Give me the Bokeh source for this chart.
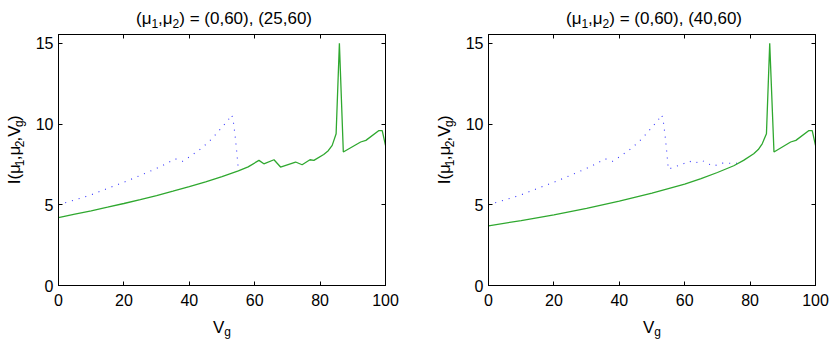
import math
from bokeh.plotting import figure
from bokeh.layouts import row, column
from bokeh.models import Range1d, FixedTicker, LinearAxis, Label, CustomJSTickFormatter
from bokeh.embed import file_html
from bokeh.resources import INLINE

# ---------------- data ----------------
# dotted blue curve, (mu1,mu2) = (0,60), common part
blue_x = [0, 5, 10, 16.6, 20.9, 27.3, 31.6, 35.7, 37.9, 40, 43.8, 47.1, 50.5, 51.8, 53, 53.5, 54, 54.5, 55]
blue_y = [5.0, 5.3, 5.62, 6.14, 6.47, 7.02, 7.4, 7.85, 7.69, 7.96, 8.51, 9.13, 9.92, 10.23, 10.58, 10.1, 9.3, 8.3, 7.2]
# continuation of the blue curve visible in the right panel
blue_tail_x = [55, 56.7, 58.9, 61.3, 63.1, 65.3, 67.2, 68.9, 71.3, 73.5, 75.5, 77.6]
blue_tail_y = [7.2, 7.34, 7.48, 7.71, 7.58, 7.75, 7.54, 7.4, 7.58, 7.58, 7.54, 7.72]

# solid green, left panel (25,60)
green_left_x = [0, 5, 10, 15, 20, 25, 30, 35, 40, 45, 50, 55, 58, 61.3, 62.8, 65.9, 67.9, 72.5, 74.5,
                76.9, 78.1, 81.1, 82.5, 83.7, 84.9, 85.9, 87.1, 92.4, 94, 98, 99, 100]
green_left_y = [4.2, 4.42, 4.63, 4.85, 5.08, 5.32, 5.57, 5.84, 6.12, 6.42, 6.75, 7.1, 7.35, 7.75, 7.54, 7.79, 7.34, 7.65, 7.48,
                7.79, 7.75, 8.12, 8.35, 8.68, 9.4, 15.0, 8.27, 8.89, 8.99, 9.6, 9.6, 8.68]

# solid green, right panel (40,60)
green_right_x = [0, 10, 20, 30, 40, 50, 55, 60, 65, 70, 75, 78, 81.1, 82.5, 83.7, 85.0, 86.0, 87.3, 92.4, 94, 98, 99, 100]
green_right_y = [3.7, 4.02, 4.38, 4.78, 5.23, 5.72, 6.0, 6.28, 6.62, 7.0, 7.42, 7.75, 8.16, 8.42, 8.78, 9.4, 15.0, 8.27,
                 8.89, 8.99, 9.6, 9.6, 8.68]

x_ticks = [0, 20, 40, 60, 80, 100]
y_ticks = [0, 5, 10, 15]
second_pairs = ["(25,60)", "(40,60)"]
first_pair = "(0,60)"

# ---------------- styling helpers ----------------
FONT = "Liberation Sans"
MAIN = 17
SUB = 12
SUBSHIFT = 4.5
# Liberation Sans (Arial metric) advance widths in em
W = {'(': .333, ')': .333, ',': .278, ' ': .278, '=': .584, 'μ': .576, 'I': .278, 'V': .667, 'g': .556}
for d in "0123456789":
    W[d] = .556


def tw(s, size):
    return sum(W.get(c, .556) for c in s) * size


def text_fig(width, height):
    f = figure(width=width, height=height, x_range=Range1d(0, width), y_range=Range1d(0, height),
               output_backend="svg", toolbar_location=None, title=None, min_border=0,
               x_axis_type=None, y_axis_type=None)
    f.outline_line_color = None
    f.background_fill_color = "white"
    f.border_fill_color = "white"
    return f


def rich(f, pieces, cx, cy, rotated=False):
    """pieces laid out along the text direction, centred on (cx, cy) in pixel data units;
    cy is the main baseline (horizontal) or cx the main baseline (rotated)."""
    total = sum(tw(t, s) for t, s, _ in pieces)
    cur = -total / 2.0
    for t, s, sh in pieces:
        if rotated:
            lab = Label(x=cx + sh, y=cy + cur, text=t, angle=math.pi / 2,
                        text_font=FONT, text_font_size=f"{s}px",
                        text_align="left", text_baseline="alphabetic", text_color="black")
        else:
            lab = Label(x=cx + cur, y=cy - sh, text=t,
                        text_font=FONT, text_font_size=f"{s}px",
                        text_align="left", text_baseline="alphabetic", text_color="black")
        f.add_layout(lab)
        cur += tw(t, s)


Y_TOP = 15.55
FW, FH = 327, 251
TOP_H = 30
MID_TOP = 4
MID_BOTTOM = 26
MID_H = MID_TOP + FH + MID_BOTTOM
BOT_H = 340 - TOP_H - MID_H


def make_main(width, left_border, right_border):
    p = figure(width=width, height=MID_H, x_range=Range1d(0, 100), y_range=Range1d(0, Y_TOP),
               output_backend="svg", toolbar_location=None, title=None,
               min_border_left=left_border, min_border_right=right_border,
               min_border_top=MID_TOP, min_border_bottom=MID_BOTTOM)
    p.background_fill_color = "white"
    p.border_fill_color = "white"
    p.outline_line_color = "black"
    p.grid.visible = False
    for ax in (p.xaxis[0], p.yaxis[0]):
        ax.major_tick_in = 4
        ax.major_tick_out = 0
        ax.minor_tick_line_color = None
        ax.axis_line_color = "black"
        ax.major_tick_line_color = "black"
        ax.major_label_text_font = FONT
        ax.major_label_text_font_size = "16px"
        ax.major_label_text_color = "black"
    p.xaxis[0].ticker = FixedTicker(ticks=x_ticks)
    p.yaxis[0].ticker = FixedTicker(ticks=y_ticks)
    p.xaxis[0].major_label_standoff = 8
    p.yaxis[0].major_label_standoff = 5
    # mirrored ticks on top and right
    top = LinearAxis(ticker=FixedTicker(ticks=x_ticks), formatter=CustomJSTickFormatter(code="return ''"))
    rgt = LinearAxis(ticker=FixedTicker(ticks=y_ticks), formatter=CustomJSTickFormatter(code="return ''"))
    for ax in (top, rgt):
        ax.major_tick_in = 4
        ax.major_tick_out = 0
        ax.minor_tick_line_color = None
        ax.axis_line_color = "black"
        ax.major_label_standoff = 0
        ax.major_label_text_font_size = "1px"
    p.add_layout(top, "above")
    p.add_layout(rgt, "right")
    return p


def make_panel(second, ylab_w, main_w, left_border, right_border, frame_x0, ylab_base):
    # frame_x0: x of the frame's left edge within this 415 px wide panel
    fcx = frame_x0 + FW / 2.0
    t = text_fig(415, TOP_H)
    rich(t, [("(μ", MAIN, 0), ("1", SUB, SUBSHIFT), (",μ", MAIN, 0), ("2", SUB, SUBSHIFT),
             (") = " + first_pair + ", " + second, MAIN, 0)], cx=fcx + 2, cy=12)
    yl = text_fig(ylab_w, MID_H)
    rich(yl, [("I(μ", MAIN, 0), ("1", SUB, SUBSHIFT), (",μ", MAIN, 0), ("2", SUB, SUBSHIFT),
              (",V", MAIN, 0), ("g", SUB, SUBSHIFT), (")", MAIN, 0)],
         cx=ylab_base, cy=MID_H - MID_TOP - FH / 2.0, rotated=True)
    main = make_main(main_w, left_border, right_border)
    xl = text_fig(415, BOT_H)
    rich(xl, [("V", MAIN, 0), ("g", SUB, 5)], cx=fcx, cy=13.5)
    return column(t, row(yl, main), xl), main


BLUE = "#3434ff"
GREEN = "#2fa82f"

panel1, p1 = make_panel(second_pairs[0], 30, 385, 28, 30, 58, 14)
p1.line(blue_x, blue_y, line_color=BLUE, line_width=1.1, line_dash="1 6")
p1.line(green_left_x, green_left_y, line_color=GREEN, line_width=1.3)

panel2, p2 = make_panel(second_pairs[1], 45, 370, 28, 15, 73, 29)
p2.line(blue_x + blue_tail_x, blue_y + blue_tail_y, line_color=BLUE, line_width=1.1, line_dash="1 6")
p2.line(green_right_x, green_right_y, line_color=GREEN, line_width=1.3)

layout = row(panel1, panel2)
open("out.html", "w").write(file_html(layout, INLINE))
